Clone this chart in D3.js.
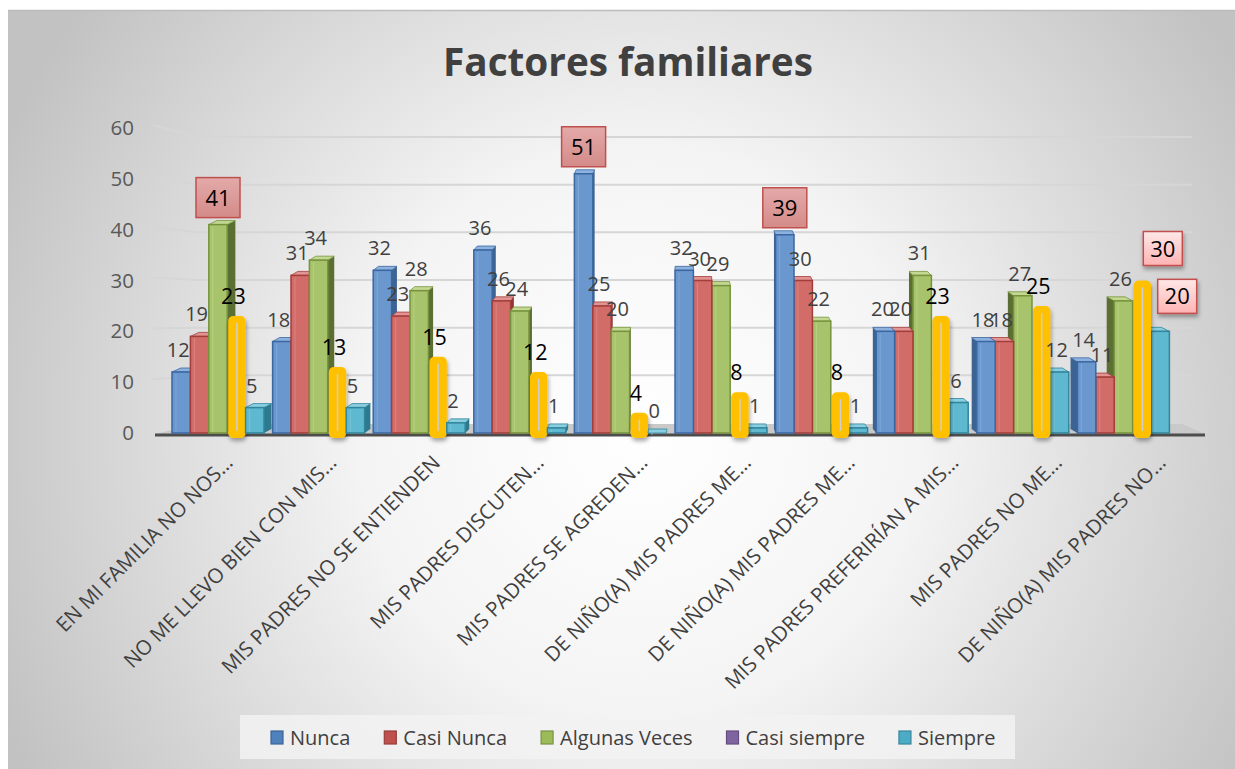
<!DOCTYPE html>
<html>
<head>
<meta charset="utf-8">
<script src="https://cdn.jsdelivr.net/npm/d3@7"></script>
<style>
  html, body { margin: 0; padding: 0; background: #fff; }
  svg { display: block; font-family: "Open Sans", sans-serif; }
</style>
</head>
<body>
<div id="chart"></div>
<script>
// Data
const categories = [
  'EN MI FAMILIA NO NOS…',
  'NO ME LLEVO BIEN CON MIS…',
  'MIS PADRES NO SE ENTIENDEN',
  'MIS PADRES DISCUTEN…',
  'MIS PADRES SE AGREDEN…',
  'DE NIÑO(A) MIS PADRES ME…',
  'DE NIÑO(A) MIS PADRES ME…',
  'MIS PADRES PREFERIRÍAN A MIS…',
  'MIS PADRES NO ME…',
  'DE NIÑO(A) MIS PADRES NO…'
];
const seriesNames = ['Nunca', 'Casi Nunca', 'Algunas Veces', 'Casi siempre', 'Siempre'];
const nunca       = [12, 18, 32, 36, 51, 32, 39, 20, 18, 14];
const casiNunca   = [19, 31, 23, 26, 25, 30, 30, 20, 18, 11];
const algunasVeces = [41, 34, 28, 24, 20, 29, 22, 31, 27, 26];
const casiSiempre = [23, 13, 15, 12, 4, 8, 8, 23, 25, 30];
const siempre     = [5, 5, 2, 1, 0, 1, 1, 6, 12, 20];
const yTicks = [0, 10, 20, 30, 40, 50, 60];
// [category index, series index, box style]
const boxedLabels = [[0, 2, 'rose'], [4, 0, 'rose'], [6, 0, 'rose'], [9, 3, 'pink'], [9, 4, 'pink']];

const values = [nunca, casiNunca, algunasVeces, casiSiempre, siempre];

const W = 1235, H = 769;
const seriesStyle = [
  { front: '#6b97cf', edge: '#3b67a0', side: '#3d6392', top: '#8db2df', legend: '#4f81bd' },
  { front: '#d16c69', edge: '#a23d3a', side: '#953432', top: '#e39492', legend: '#c0504d' },
  { front: '#a7c46c', edge: '#76933c', side: '#5b6f33', top: '#c3d893', legend: '#9bbb59' },
  { front: '#ffc000', edge: '#ffc000', side: '#ffc000', top: '#ffc000', legend: '#8064a2' },
  { front: '#5eb8cf', edge: '#31859c', side: '#2e798d', top: '#8acee0', legend: '#4bacc6' }
];

const svg = d3.select('#chart').append('svg')
  .attr('width', W)
  .attr('height', H);

const defs = svg.append('defs');

// Background radial gradient
const bg = defs.append('radialGradient')
  .attr('id', 'bg')
  .attr('gradientUnits', 'userSpaceOnUse')
  .attr('cx', 640).attr('cy', 430).attr('r', 700);
bg.append('stop').attr('offset', '0%').attr('stop-color', '#ffffff');
bg.append('stop').attr('offset', '40%').attr('stop-color', '#f4f4f4');
bg.append('stop').attr('offset', '100%').attr('stop-color', '#c2c2c2');

const pinkGrad = defs.append('linearGradient')
  .attr('id', 'pink').attr('x1', 0).attr('y1', 0).attr('x2', 0).attr('y2', 1);
pinkGrad.append('stop').attr('offset', '0%').attr('stop-color', '#ffe8e8');
pinkGrad.append('stop').attr('offset', '100%').attr('stop-color', '#ffb3b3');

const roseGrad = defs.append('linearGradient')
  .attr('id', 'rose').attr('x1', 0).attr('y1', 0).attr('x2', 0).attr('y2', 1);
roseGrad.append('stop').attr('offset', '0%').attr('stop-color', '#e3aaa9');
roseGrad.append('stop').attr('offset', '100%').attr('stop-color', '#d48b89');

const shadow = defs.append('filter').attr('id', 'shadow')
  .attr('x', '-50%').attr('y', '-50%').attr('width', '200%').attr('height', '200%');
shadow.append('feDropShadow')
  .attr('dx', 1).attr('dy', 3).attr('stdDeviation', 2)
  .attr('flood-color', '#000').attr('flood-opacity', 0.35);

// Card
svg.append('rect')
  .attr('x', 8).attr('y', 10)
  .attr('width', W - 8).attr('height', H - 10)
  .attr('fill', 'url(#bg)');
svg.append('line')
  .attr('x1', 8).attr('x2', W).attr('y1', 10.5).attr('y2', 10.5)
  .attr('stroke', '#bdbdbd').attr('stroke-width', 1.5);

// Title
svg.append('text')
  .attr('x', 628).attr('y', 76)
  .attr('text-anchor', 'middle')
  .attr('font-size', 39)
  .attr('font-weight', 'bold')
  .attr('fill', '#404040')
  .attr('textLength', 370)
  .attr('lengthAdjust', 'spacingAndGlyphs')
  .text('Factores familiares');

// Scales
const yFront = d3.scaleLinear().domain([0, 60]).range([433, 128]);
const yBack = d3.scaleLinear().domain([0, 60]).range([423, 137]);
const x0 = d3.scaleBand().domain(d3.range(categories.length)).range([160, 1166]);
const x1 = d3.scaleBand().domain(d3.range(seriesNames.length)).range([12, 104]);
const xLabel = d3.scalePoint().domain(d3.range(categories.length)).range([234, 1167]);

// Gridlines on the back wall
const grid = svg.append('g');
yTicks.filter(t => t > 0).forEach(t => {
  grid.append('path')
    .attr('d', `M153,${yFront(t) - 3}L197,${yBack(t)}L1192,${yBack(t)}`)
    .attr('fill', 'none')
    .attr('stroke', '#d6d6d6')
    .attr('stroke-width', 2);
});

// Y axis labels
const yAxis = svg.append('g')
  .attr('transform', 'translate(134,0)')
  .call(d3.axisLeft(yFront).tickValues(yTicks).tickSize(0).tickPadding(0));
yAxis.select('.domain').remove();
yAxis.selectAll('text')
  .attr('font-family', '"Open Sans", sans-serif')
  .attr('font-size', 20.5)
  .attr('fill', '#595959');

// Floor
svg.append('path')
  .attr('d', 'M155,434L197,424L1182,424L1205,434Z')
  .attr('fill', '#c9c9c9');
svg.append('line')
  .attr('x1', 155).attr('x2', 1205).attr('y1', 435).attr('y2', 435)
  .attr('stroke', '#4d4d4d').attr('stroke-width', 3);

// Bars
const barLayer = svg.append('g');
const labelLayer = svg.append('g');
const base = yFront(0);

function sideDepth(xc) {
  return (690 - xc) / 520 * 9;
}

function draw3DBar(g, x, w, v, st) {
  const yTop = yFront(v);
  const d = sideDepth(x + w / 2);
  const dy = -4;
  if (d >= 0) {
    g.append('path')
      .attr('d', `M${x + w},${base}L${x + w},${yTop}L${x + w + d},${yTop + dy}L${x + w + d},${base + dy}Z`)
      .attr('fill', st.side);
  } else {
    g.append('path')
      .attr('d', `M${x},${base}L${x},${yTop}L${x + d},${yTop + dy}L${x + d},${base + dy}Z`)
      .attr('fill', st.side);
  }
  g.append('path')
    .attr('d', `M${x},${yTop}L${x + w},${yTop}L${x + w + d},${yTop + dy}L${x + d},${yTop + dy}Z`)
    .attr('fill', st.top)
    .attr('stroke', st.edge).attr('stroke-width', 0.8);
  g.append('rect')
    .attr('x', x).attr('y', yTop)
    .attr('width', w).attr('height', base - yTop)
    .attr('fill', st.front)
    .attr('stroke', st.edge).attr('stroke-width', 1.5);
  g.append('line')
    .attr('x1', x + 4).attr('x2', x + 4)
    .attr('y1', yTop + 2).attr('y2', base - 1)
    .attr('stroke', st.top).attr('stroke-opacity', 0.6).attr('stroke-width', 1);
}

function drawPillBar(g, x, w, v) {
  const yTop = yFront(v);
  const bottom = base + 5;
  g.append('rect')
    .attr('x', x).attr('y', yTop)
    .attr('width', w).attr('height', bottom - yTop)
    .attr('rx', 5)
    .attr('fill', '#ffc000')
    .attr('filter', 'url(#shadow)');
  g.append('line')
    .attr('x1', x + w / 2).attr('x2', x + w / 2)
    .attr('y1', Math.min(yTop + 7, bottom - 10)).attr('y2', bottom - 7)
    .attr('stroke', '#cfcfcf').attr('stroke-width', 1.5);
}

const isBoxed = (c, s) => boxedLabels.find(b => b[0] === c && b[1] === s);

categories.forEach((cat, c) => {
  const g = barLayer.append('g');
  const start = x0(c);
  const bw = x1.bandwidth();
  const xc = start + x1(2) + bw / 2;
  const order = sideDepth(xc) >= 0 ? [0, 1, 2, 3, 4] : [4, 3, 2, 1, 0];
  order.forEach(s => {
    const v = values[s][c];
    const x = start + x1(s);
    if (s === 3) {
      drawPillBar(g, x + 1, bw - 1, v);
    } else {
      draw3DBar(g, x, bw, v, seriesStyle[s]);
    }
  });

  // Data labels
  seriesNames.forEach((name, s) => {
    const v = values[s][c];
    const cx = start + x1(s) + bw / 2;
    const top = yFront(v);
    const boxed = isBoxed(c, s);
    if (boxed) {
      let bx = cx, by = top - 27;
      if (boxed[2] === 'pink') { bx = cx + (s === 3 ? 21 : 17); by = top - (s === 3 ? 32 : 35); }
      const bwid = boxed[2] === 'pink' ? 39 : 44;
      const bh = boxed[2] === 'pink' ? 34 : 40;
      labelLayer.append('rect')
        .attr('x', bx - bwid / 2).attr('y', by - bh / 2)
        .attr('width', bwid).attr('height', bh)
        .attr('fill', `url(#${boxed[2]})`)
        .attr('stroke', '#c0504d').attr('stroke-width', 1.5)
        .attr('filter', boxed[2] === 'pink' ? 'url(#shadow)' : null);
      labelLayer.append('text')
        .attr('x', bx).attr('y', by + 8)
        .attr('text-anchor', 'middle')
        .attr('font-size', 22)
        .attr('fill', '#000')
        .text(v);
    } else {
      labelLayer.append('text')
        .attr('x', cx - 3).attr('y', top - (s === 3 ? 12 : 15))
        .attr('text-anchor', 'middle')
        .attr('font-size', s === 3 ? 21.5 : 20)
        .attr('fill', s === 3 ? '#000' : '#404040')
        .text(v);
    }
  });
});

// Category labels, rotated
svg.append('g').selectAll('text')
  .data(categories)
  .join('text')
  .attr('transform', (d, i) => `translate(${xLabel(i)},464) rotate(-45)`)
  .attr('text-anchor', 'end')
  .attr('font-size', 20.5)
  .attr('fill', '#404040')
  .text(d => d);

// Legend
svg.append('rect')
  .attr('x', 240).attr('y', 715)
  .attr('width', 775).attr('height', 44)
  .attr('fill', '#f2f2f2').attr('fill-opacity', 0.85);

const legend = svg.append('g');
let lx = 271;
seriesNames.forEach((name, s) => {
  legend.append('rect')
    .attr('x', lx).attr('y', 731)
    .attr('width', 12).attr('height', 13)
    .attr('fill', seriesStyle[s].legend)
    .attr('stroke', d3.color(seriesStyle[s].legend).darker(0.7))
    .attr('stroke-width', 1.2);
  const t = legend.append('text')
    .attr('x', lx + 19).attr('y', 745)
    .attr('font-size', 20)
    .attr('fill', '#404040')
    .text(name);
  lx += 19 + t.node().getComputedTextLength() + 34;
});
</script>
</body>
</html>
